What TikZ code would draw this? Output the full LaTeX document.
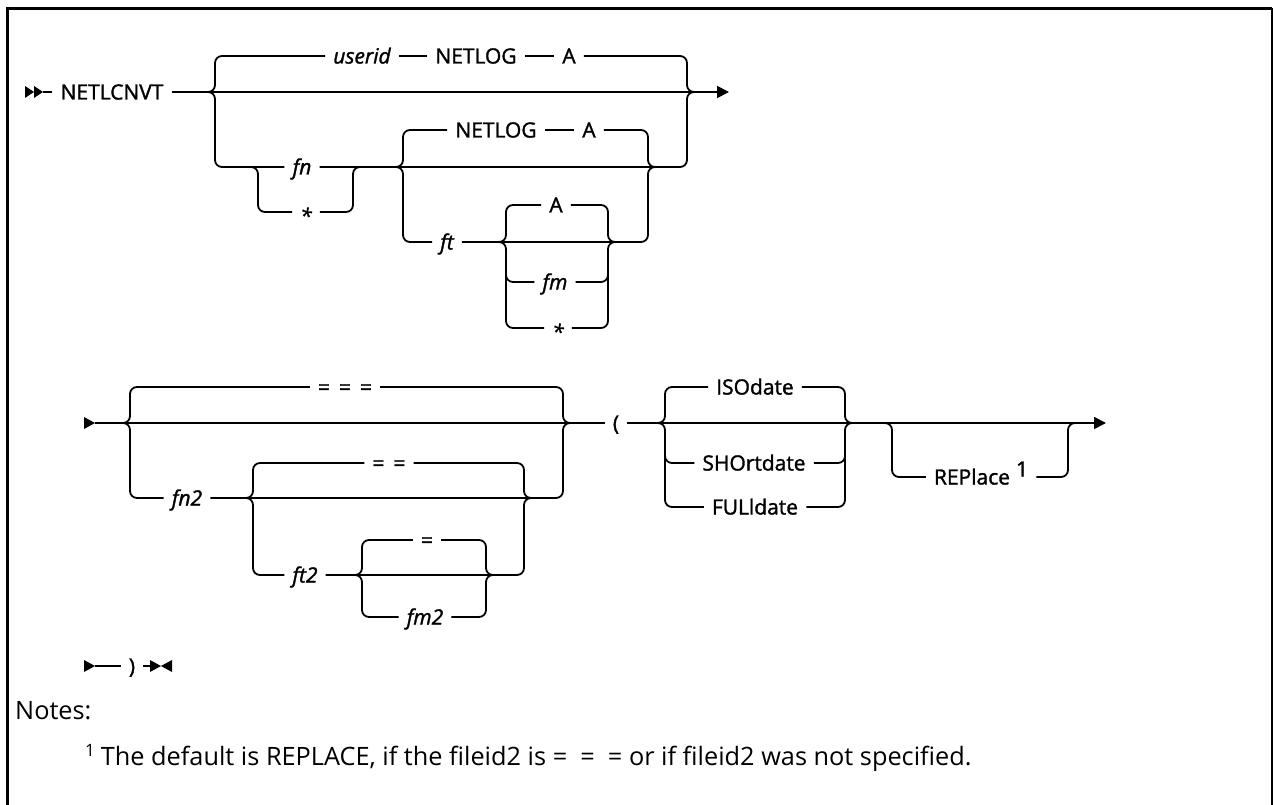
\documentclass[tikz,border=0pt]{standalone}
\usepackage{fontspec}
\setmainfont{Open Sans}
\newfontfamily\labelfont[FakeBold=1.5]{Open Sans}
\newfontfamily\notefamily{Open Sans}
\usetikzlibrary{calc,arrows.meta}
\newcommand{\dfont}{\labelfont\fontsize{21}{25}\selectfont}
\newcommand{\nfont}{\notefamily\fontsize{25.3}{30}\selectfont}
\begin{document}
\begin{tikzpicture}[x=1pt,y=-1pt,
  rr/.style={line width=1.8pt, rounded corners=7pt},
  lbl/.style={font=\dfont, inner xsep=8pt, inner ysep=1pt, text height=15pt, text depth=0pt},
  var/.style={lbl, font=\dfont\itshape},
  endtip/.style={-{Triangle[length=12pt,width=12pt]}}]
\useasboundingbox (0,0) rectangle (1274,805);
% frame
\draw[line width=3pt] (7.5,810) -- (7.5,8.5) -- (1272,8.5);
\draw[line width=2.5pt] (1272,8.5) -- (1272,810);

% ---------- row A ----------
\node[lbl] (cmd) at (112,92) {NETLCNVT};
\node[var] (userid) at (362,56) {userid};
\node[lbl] (netlog1) at (476,56) {NETLOG};
\node[lbl] (a1) at (569,56) {A};
\node[var] (fn) at (302,167) {fn};
\node[var] (star1) at (306,212) {\raisebox{-4pt}{*}};
\node[lbl] (netlog2) at (496,130) {NETLOG};
\node[lbl] (a2) at (589,130) {A};
\node[var] (ft) at (447,242) {ft};
\node[lbl] (a3) at (556,205) {A};
\node[var] (fm) at (555,282) {fm};
\node[var] (star2) at (558,328) {\raisebox{-4pt}{*}};

\coordinate (b1l) at (215,92);  \coordinate (b1r) at (687,92);
\coordinate (b1al) at (258,167); \coordinate (b1ar) at (353,167);
\coordinate (b2l) at (403,167); \coordinate (b2r) at (648,167);
\coordinate (b3l) at (506,242); \coordinate (b3r) at (608,242);
\coordinate (s0) at (43,92);
\coordinate (e1) at (729,92);

\fill (25,86) -- (34,92) -- (25,98) -- cycle;
\fill (34,86) -- (43,92) -- (34,98) -- cycle;
\draw[rr] (s0) -- (cmd);
\draw[rr,endtip] (cmd) -- (e1);
% B1 up
\draw[rr] ($(b1l)+(-8,0)$) -- (b1l) -- (b1l |- userid) -- (userid);
\draw[rr] (userid) -- (netlog1);
\draw[rr] (netlog1) -- (a1);
\draw[rr] (a1) -- (b1r |- a1) -- (b1r) -- ($(b1r)+(8,0)$);
% B1 down
\draw[rr] ($(b1l)+(-8,0)$) -- (b1l) -- (b1l |- fn) -- (fn);
\draw[rr] (fn) -- (b1r |- fn) -- (b1r) -- ($(b1r)+(8,0)$);
% fn / *
\draw[rr] ($(b1al)+(-8,0)$) -- (b1al) -- (b1al |- star1) -- (star1);
\draw[rr] (star1) -- (b1ar |- star1) -- (b1ar) -- ($(b1ar)+(8,0)$);
% B2 up
\draw[rr] ($(b2l)+(-8,0)$) -- (b2l) -- (b2l |- netlog2) -- (netlog2);
\draw[rr] (netlog2) -- (a2);
\draw[rr] (a2) -- (b2r |- a2) -- (b2r) -- ($(b2r)+(8,0)$);
% B2 down
\draw[rr] ($(b2l)+(-8,0)$) -- (b2l) -- (b2l |- ft) -- (ft);
\draw[rr] (ft) -- (b2r |- ft) -- (b2r) -- ($(b2r)+(8,0)$);
% B3
\draw[rr] ($(b3l)+(-8,0)$) -- (b3l) -- (b3l |- a3) -- (a3);
\draw[rr] (a3) -- (b3r |- a3) -- (b3r) -- ($(b3r)+(8,0)$);
\draw[rr] ($(b3l)+(-8,0)$) -- (b3l) -- (b3l |- star2) -- (star2);
\draw[rr] (star2) -- (b3r |- star2) -- (b3r) -- ($(b3r)+(8,0)$);
\draw[rr] ($(b3l |- fm)+(0,-20)$) -- (b3l |- fm) -- (fm);
\draw[rr] (fm) -- (b3r |- fm) -- ($(b3r |- fm)+(0,-20)$);

% ---------- row B ----------
\node[lbl] (eq3) at (345,387) {=\hspace{9pt}=\hspace{9pt}=};
\node[var] (fn2) at (187,498) {fn2};
\node[lbl] (eq2) at (389,463) {=\hspace{9pt}=};
\node[var] (ft2) at (305,575) {ft2};
\node[lbl] (eq1) at (427,540) {=};
\node[var] (fm2) at (425,617) {fm2};
\node[lbl] (paren) at (616,423) {(};
\node[lbl] (iso) at (755,387) {ISOdate};
\node[lbl] (sho) at (754,463) {SHOrtdate};
\node[lbl] (ful) at (755,507) {FULldate};
\node[lbl] (rep) at (981,477) {REPlace\hspace{6pt}\raisebox{8pt}{1}};

\coordinate (b4l) at (130,423); \coordinate (b4r) at (563,423);
\coordinate (b5l) at (253,498); \coordinate (b5r) at (524,498);
\coordinate (b6l) at (362,575); \coordinate (b6r) at (486,575);
\coordinate (b7l) at (665,423); \coordinate (b7r) at (845,423);
\coordinate (b8l) at (892,423); \coordinate (b8r) at (1068,423);
\coordinate (s1) at (95,423);
\coordinate (e2) at (1106,423);

\fill ($(s1)+(-11,-6)$) -- (s1) -- ($(s1)+(-11,6)$) -- cycle;
\draw[rr] (s1) -- (paren);
\draw[rr,endtip] (paren) -- (e2);
% B4
\draw[rr] ($(b4l)+(-8,0)$) -- (b4l) -- (b4l |- eq3) -- (eq3);
\draw[rr] (eq3) -- (b4r |- eq3) -- (b4r) -- ($(b4r)+(8,0)$);
\draw[rr] ($(b4l)+(-8,0)$) -- (b4l) -- (b4l |- fn2) -- (fn2);
\draw[rr] (fn2) -- (b4r |- fn2) -- (b4r) -- ($(b4r)+(8,0)$);
% B5
\draw[rr] ($(b5l)+(-8,0)$) -- (b5l) -- (b5l |- eq2) -- (eq2);
\draw[rr] (eq2) -- (b5r |- eq2) -- (b5r) -- ($(b5r)+(8,0)$);
\draw[rr] ($(b5l)+(-8,0)$) -- (b5l) -- (b5l |- ft2) -- (ft2);
\draw[rr] (ft2) -- (b5r |- ft2) -- (b5r) -- ($(b5r)+(8,0)$);
% B6
\draw[rr] ($(b6l)+(-8,0)$) -- (b6l) -- (b6l |- eq1) -- (eq1);
\draw[rr] (eq1) -- (b6r |- eq1) -- (b6r) -- ($(b6r)+(8,0)$);
\draw[rr] ($(b6l)+(-8,0)$) -- (b6l) -- (b6l |- fm2) -- (fm2);
\draw[rr] (fm2) -- (b6r |- fm2) -- (b6r) -- ($(b6r)+(8,0)$);
% B7
\draw[rr] ($(b7l)+(-8,0)$) -- (b7l) -- (b7l |- iso) -- (iso);
\draw[rr] (iso) -- (b7r |- iso) -- (b7r) -- ($(b7r)+(8,0)$);
\draw[rr] ($(b7l)+(-8,0)$) -- (b7l) -- (b7l |- ful) -- (ful);
\draw[rr] (ful) -- (b7r |- ful) -- (b7r) -- ($(b7r)+(8,0)$);
\draw[rr] ($(b7l |- sho)+(0,-20)$) -- (b7l |- sho) -- (sho);
\draw[rr] (sho) -- (b7r |- sho) -- ($(b7r |- sho)+(0,-20)$);
% B8
\draw[rr] ($(b8l)+(-8,0)$) -- (b8l) -- (b8l |- rep) -- (rep);
\draw[rr] (rep) -- (b8r |- rep) -- (b8r) -- ($(b8r)+(8,0)$);

% ---------- row C ----------
\node[lbl] (paren2) at (132,666) {)};
\coordinate (s2) at (95,666);
\coordinate (endCa) at (150,666);
\coordinate (endC) at (161,666);
\fill ($(s2)+(-11,-6)$) -- (s2) -- ($(s2)+(-11,6)$) -- cycle;
\draw[rr] (s2) -- (paren2);
\draw[rr] (paren2) -- (endCa);
\fill ($(endC)+(-11,-6)$) -- (endC) -- ($(endC)+(-11,6)$) -- cycle;
\fill ($(endC)+(11,-6)$) -- (endC) -- ($(endC)+(11,6)$) -- cycle;

% ---------- notes ----------
\node[anchor=base west, font=\nfont, inner sep=0pt] (notes) at (15,719) {Notes:};
\node[anchor=base west, font=\nfont, inner sep=0pt] (note1) at (85,765)
  {\raisebox{9pt}{\fontsize{17}{17}\selectfont 1}\hspace{6pt}The default is REPLACE, if the fileid2 is =\ \ =\ \ = or if fileid2 was not specified.};
\end{tikzpicture}
\end{document}
